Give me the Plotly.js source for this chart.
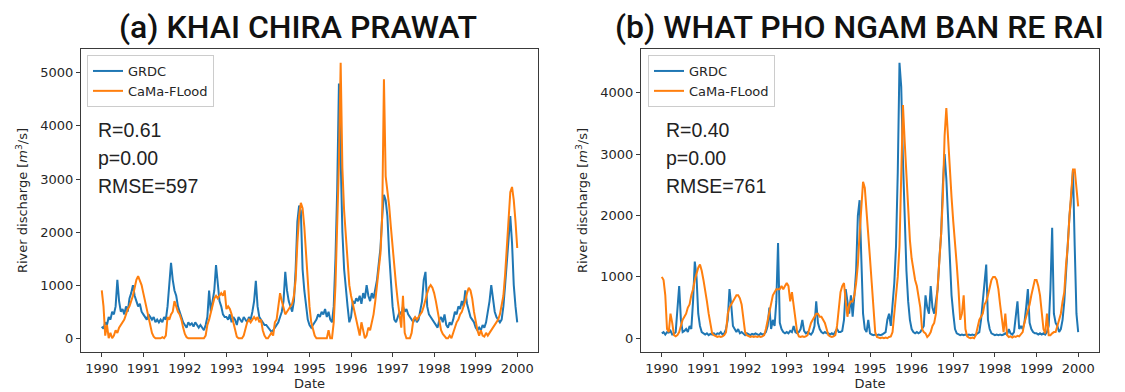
<!DOCTYPE html>
<html><head><meta charset="utf-8">
<script src="https://cdn.plot.ly/plotly-3.0.1.min.js"></script>
<style>html,body{margin:0;padding:0;background:#fff}#chart{width:1125px;height:392px}</style>
</head><body><div id="chart"></div>
<script>
// ---- data (semi-monthly samples, Jan 1990 .. Jan 2000) ----
const startYear = 1990;
const stepsPerYear = 24;
const seriesNames = ['GRDC', 'CaMa-FLood'];
const panelTitles = ['(a) KHAI CHIRA PRAWAT', '(b) WHAT PHO NGAM BAN RE RAI'];
const statsA = ['R=0.61', 'p=0.00', 'RMSE=597'];
const statsB = ['R=0.40', 'p=0.00', 'RMSE=761'];
const tickYears = [1990, 1991, 1992, 1993, 1994, 1995, 1996, 1997, 1998, 1999, 2000];
const yTicksA = [0, 1000, 2000, 3000, 4000, 5000];
const yTicksB = [0, 1000, 2000, 3000, 4000];
const xTitle = 'Date';
const yTitle = 'River discharge [<i>m</i><sup>3</sup>/s]';

const grdcA = [
 220,180,300,250,400,350,500,450,600,1100,700,500,550,450,600,500,750,850,1000,800,700,600,650,500,
 450,400,350,450,400,350,400,300,350,300,350,300,400,350,600,1100,1420,1100,900,800,600,500,400,300,
 250,200,300,250,280,220,300,250,200,250,200,150,250,400,900,500,700,900,1380,1000,700,600,450,400,
 400,350,450,300,400,350,250,400,350,300,400,350,300,400,350,500,700,1080,600,400,350,300,250,250,
 200,150,120,150,200,250,300,400,500,700,1250,900,700,600,500,700,1300,2200,2500,2400,1300,900,600,350,
 250,200,250,300,350,450,400,500,450,550,400,500,350,300,600,1500,2800,4800,3200,2000,1300,900,600,300,
 400,700,650,750,700,800,650,850,750,1000,800,700,850,750,900,1100,1400,1700,2300,2700,2600,2300,1600,1000,
 600,350,300,400,500,450,600,500,550,450,400,350,300,400,300,350,500,700,1100,1250,600,450,400,350,
 300,250,200,350,400,300,450,250,200,300,250,350,500,450,600,550,700,600,900,650,500,400,350,300,
 200,150,200,150,250,200,300,500,700,1000,700,500,400,350,300,350,600,1000,1500,1900,2300,1800,1000,600,
 300];
const camaA = [
 900,600,50,250,0,100,0,50,150,100,200,250,300,350,450,550,600,700,800,950,1100,1170,1100,1000,
 850,700,550,400,250,100,30,0,0,0,0,20,0,50,400,350,450,500,700,600,500,450,350,200,
 80,20,0,0,0,0,0,0,0,0,0,0,50,250,350,500,600,750,800,750,800,850,800,900,
 550,600,550,450,300,150,30,0,0,0,50,200,300,350,300,350,400,350,400,300,350,150,50,0,
 0,50,100,50,300,350,600,850,700,550,450,500,550,600,650,800,1100,1800,2300,2550,2450,2100,1600,1000,
 600,300,150,50,0,0,0,0,0,0,0,150,0,0,300,1000,2000,3300,5190,3200,2400,1900,1400,1000,
 800,650,500,350,200,50,300,150,0,50,200,150,300,450,700,1000,1300,1600,2300,4880,3050,2800,2500,2100,
 1700,1300,1000,700,400,200,800,100,0,0,0,100,350,400,350,400,450,500,600,750,850,950,1000,950,
 850,700,500,300,150,80,30,0,0,50,0,100,200,300,350,450,500,600,700,850,950,900,750,500,
 300,150,50,150,50,30,100,50,100,150,200,250,300,350,450,600,800,1200,1700,2300,2750,2850,2600,2200,
 1700];
const grdcB = [
 80,100,60,100,90,120,60,70,100,500,850,300,100,120,150,100,200,150,600,1250,1000,400,200,100,
 80,60,80,50,70,60,80,50,80,70,100,60,80,150,300,800,550,200,150,100,150,80,100,80,
 50,80,60,50,70,60,80,60,50,80,60,70,100,200,500,150,300,200,600,1550,250,150,100,80,
 100,80,120,100,200,100,80,100,150,300,120,80,100,80,60,100,200,600,250,150,100,80,100,80,
 80,60,80,60,100,150,100,100,120,300,800,600,400,700,350,700,1100,2000,2250,1300,400,150,100,300,
 80,60,50,60,50,60,50,60,80,100,300,400,200,500,900,1500,2700,4490,4100,2900,1900,1100,600,300,
 150,100,80,100,80,100,150,200,700,500,400,850,500,400,600,800,1300,1700,2500,3000,2600,2000,1300,700,
 400,150,80,60,50,60,50,60,50,60,50,60,50,60,80,100,300,600,800,1200,300,150,80,60,
 50,60,50,60,50,60,80,60,150,80,60,100,400,600,150,200,150,250,500,800,250,150,100,80,
 80,60,80,60,80,60,100,200,800,1800,400,250,200,100,150,300,600,1100,1600,2000,2300,2750,1500,400,
 100];
const camaB = [
 1000,950,700,150,100,400,250,50,30,50,100,200,300,350,400,500,550,700,800,950,1050,1150,1200,1100,
 950,800,600,400,200,80,50,30,20,30,20,30,50,100,400,500,550,600,650,700,700,650,550,300,
 100,50,30,20,30,20,30,20,30,20,30,50,150,300,450,600,700,750,800,800,800,850,800,850,
 900,850,600,750,500,300,100,30,20,30,20,30,50,150,250,300,350,400,400,350,350,300,250,150,
 50,30,20,30,50,200,450,750,850,900,600,350,550,600,600,700,900,1200,1700,2200,2550,2450,2100,1800,
 1300,900,500,100,20,10,0,10,0,10,0,20,30,100,400,700,1000,1500,2500,3800,3200,2600,2100,1600,
 1300,1100,950,850,700,500,150,100,80,20,50,100,200,250,400,800,1200,1700,2300,3300,3750,3200,2800,2300,
 1900,1600,1200,800,300,400,700,150,30,10,0,10,0,50,200,300,350,400,550,600,700,850,950,1000,
 1000,950,800,550,350,100,400,50,20,30,10,30,20,40,30,60,100,250,350,450,550,700,850,950,
 950,850,700,450,150,80,400,50,50,80,100,100,200,300,400,600,750,1200,1500,2000,2400,2750,2750,2500,
 2150];

// ---- build ----
const t = grdcA.map((_, i) => startYear + i / stepsPerYear);
const W = 1125, H = 392;
const blue = '#1f77b4', orange = '#ff7f0e';
const spine = '#3a3a3a', txt = '#262626';
const tickFont = {family: 'DejaVu Sans', size: 13, color: txt};

function padRange(lo, hi) { const s = hi - lo; return [lo - 0.05 * s, hi + 0.05 * s]; }
const xr = padRange(Math.min(...t), Math.max(...t));
const yrA = padRange(0, Math.max(...grdcA, ...camaA));
const yrB = padRange(0, Math.max(...grdcB, ...camaB));

function line(y, name, color, xa, ya, lg) {
  return {x: t, y, name, type: 'scatter', mode: 'lines', line: {color, width: 2},
          xaxis: xa, yaxis: ya, legend: lg, hoverinfo: 'skip'};
}
const traces = [
  line(grdcA, seriesNames[0], blue, 'x', 'y', 'legend'),
  line(camaA, seriesNames[1], orange, 'x', 'y', 'legend'),
  line(grdcB, seriesNames[0], blue, 'x2', 'y2', 'legend2'),
  line(camaB, seriesNames[1], orange, 'x2', 'y2', 'legend2')
];

const yDom = [1 - 352 / H, 1 - 49 / H];
function xAx(dom, anchor) {
  return {domain: dom, anchor, range: xr, tickmode: 'array', tickvals: tickYears,
    ticktext: tickYears.map(String), ticks: 'outside', ticklen: 4, tickwidth: 1, tickcolor: spine,
    showline: true, linecolor: spine, linewidth: 1, mirror: true, showgrid: false, zeroline: false,
    tickfont: tickFont, title: {text: xTitle, font: tickFont, standoff: 4}};
}
function yAx(range, ticks, anchor) {
  return {domain: yDom, anchor, range, tickmode: 'array', tickvals: ticks, ticktext: ticks.map(String),
    ticks: 'outside', ticklen: 4, tickwidth: 1, tickcolor: spine,
    showline: true, linecolor: spine, linewidth: 1, mirror: true, showgrid: false, zeroline: false,
    tickfont: tickFont, title: {text: yTitle, font: tickFont, standoff: 9}};
}
function legendAt(px, py) {
  return {x: px / W, y: 1 - py / H, xanchor: 'left', yanchor: 'top', bgcolor: 'rgba(255,255,255,0.8)',
    bordercolor: '#cccccc', borderwidth: 1, font: {family: 'DejaVu Sans', size: 13, color: txt},
    itemwidth: 30, tracegroupgap: 0};
}
const annotations = [];
function addTitle(text, cx) {
  annotations.push({text, x: cx / W, y: 1 - 27 / H, xref: 'paper', yref: 'paper', xanchor: 'center',
    yanchor: 'middle', showarrow: false, font: {family: 'Roboto', size: 32, color: '#111', weight: 500}});
}
function addStats(lines, lx) {
  const ys = [130, 158, 186];
  lines.forEach((s, k) => annotations.push({text: s, x: lx / W, y: 1 - ys[k] / H, xref: 'paper', yref: 'paper',
    xanchor: 'left', yanchor: 'middle', showarrow: false,
    font: {family: 'Liberation Sans', size: 19.5, color: '#222'}}));
}
addTitle(panelTitles[0], 298);
addTitle(panelTitles[1], 859);
addStats(statsA, 96);
addStats(statsB, 664);

const layout = {
  width: W, height: H, margin: {l: 0, r: 0, t: 0, b: 0}, paper_bgcolor: '#fff', plot_bgcolor: '#fff',
  showlegend: true,
  xaxis: xAx([81 / W, 538 / W], 'y'),
  yaxis: yAx(yrA, yTicksA, 'x'),
  xaxis2: xAx([641 / W, 1099 / W], 'y2'),
  yaxis2: yAx(yrB, yTicksB, 'x2'),
  legend: legendAt(87, 55),
  legend2: legendAt(648, 55),
  annotations
};
Plotly.newPlot('chart', traces, layout, {displayModeBar: false, staticPlot: true});
</script></body></html>
